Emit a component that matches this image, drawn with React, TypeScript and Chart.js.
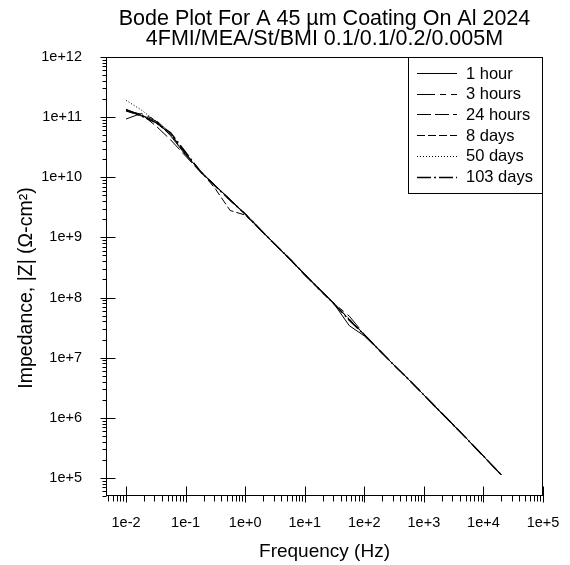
import React, { useEffect, useRef } from 'react';
import { Chart, registerables } from 'chart.js';

Chart.register(...registerables);

const titleLines = ['Bode Plot For A 45 \u00b5m Coating On Al 2024', '4FMI/MEA/St/BMI 0.1/0.1/0.2/0.005M'];
const xAxisTitle = 'Frequency (Hz)';
const yAxisTitle = 'Impedance, |Z| (\u03a9-cm\u00b2)';

const frequencies = [0.01, 0.018, 0.032, 0.056, 0.1, 0.18, 0.32, 0.56, 1, 1.8, 3.2, 5.6, 10, 18, 32, 56, 100, 180, 320, 560, 1000, 1800, 3200, 5600, 10000, 20000];

const seriesLabels = ['1 hour', '3 hours', '24 hours', '8 days', '50 days', '103 days'];

const impedance1Hour = [1.35e11, 1.08e11, 8.6e10, 4.9e10, 2.35e10, 1.25e10, 7.0e9, 4.3e9, 2.45e9, 1.33e9, 7.7e8, 4.3e8, 2.45e8, 1.34e8, 7.5e7, 3.4e7, 2.3e7, 1.32e7, 7.4e6, 4.3e6, 2.4e6, 1.32e6, 7.4e5, 4.2e5, 2.3e5, 1.12e5];
const impedance3Hours = [9.3e10, 1.15e11, 8.9e10, 5.3e10, 2.5e10, 1.2e10, 7.3e9, 4.1e9, 2.5e9, 1.37e9, 7.5e8, 4.5e8, 2.35e8, 1.37e8, 7.8e7, 4.9e7, 2.45e7, 1.3e7, 7.5e6, 4.3e6, 2.4e6, 1.33e6, 7.4e5, 4.2e5, 2.3e5, 1.12e5];
const impedance24Hours = [1.28e11, 1.12e11, 7.1e10, 4.2e10, 2.25e10, 1.2e10, 7.2e9, 4.25e9, 2.4e9, 1.36e9, 7.6e8, 4.4e8, 2.42e8, 1.3e8, 7.7e7, 4.3e7, 2.4e7, 1.33e7, 7.4e6, 4.3e6, 2.4e6, 1.32e6, 7.4e5, 4.2e5, 2.3e5, 1.12e5];
const impedance8Days = [1.26e11, 1.05e11, 8.0e10, 5.1e10, 2.45e10, 1.27e10, 6.3e9, 2.8e9, 2.35e9, 1.35e9, 7.6e8, 4.35e8, 2.4e8, 1.36e8, 7.6e7, 4.4e7, 2.4e7, 1.32e7, 7.4e6, 4.3e6, 2.4e6, 1.32e6, 7.4e5, 4.2e5, 2.3e5, 1.12e5];
const impedance50Days = [1.9e11, 1.32e11, 8.5e10, 5.2e10, 2.4e10, 1.24e10, 7.1e9, 4.2e9, 2.45e9, 1.35e9, 7.6e8, 4.4e8, 2.4e8, 1.35e8, 7.6e7, 4.3e7, 2.4e7, 1.32e7, 7.4e6, 4.3e6, 2.4e6, 1.32e6, 7.4e5, 4.2e5, 2.3e5, 1.12e5];
const impedance103Days = [1.32e11, 1.05e11, 8.1e10, 5.5e10, 2.6e10, 1.22e10, 7.0e9, 4.15e9, 2.45e9, 1.34e9, 7.6e8, 4.4e8, 2.4e8, 1.35e8, 7.6e7, 4.2e7, 2.4e7, 1.32e7, 7.4e6, 4.3e6, 2.4e6, 1.32e6, 7.4e5, 4.2e5, 2.3e5, 1.12e5];

const seriesValues = [impedance1Hour, impedance3Hours, impedance24Hours, impedance8Days, impedance50Days, impedance103Days];
const seriesDashes = [[], [18, 5, 6, 5], [14, 4], [8, 3], [1, 2], [14, 3, 2, 3]];
const seriesWidths = [1, 1, 1, 1, 1, 1.5];

const xTickValues = [1e-2, 1e-1, 1e0, 1e1, 1e2, 1e3, 1e4, 1e5];
const yTickValues = [1e5, 1e6, 1e7, 1e8, 1e9, 1e10, 1e11, 1e12];
const minorMultipliers = [2, 3, 4, 5, 6, 7, 8, 9];

const FONT = '"Liberation Sans", Arial, Helvetica, sans-serif';

function expLabel(v: number) {
  const e = Math.round(Math.log10(v));
  return '1e' + (e < 0 ? '-' : '+') + Math.abs(e);
}

function logTickValues(min: number, max: number) {
  const out: { v: number; major: boolean }[] = [];
  const d0 = Math.floor(Math.log10(min)) - 1;
  const d1 = Math.ceil(Math.log10(max)) + 1;
  for (let d = d0; d <= d1; d++) {
    const base = Math.pow(10, d);
    const major = Number(base.toPrecision(6));
    if (major >= min && major <= max * 1.000001) out.push({ v: major, major: true });
    for (const m of minorMultipliers) {
      const v = Number((m * base).toPrecision(6));
      if (v >= min && v <= max) out.push({ v, major: false });
    }
  }
  return out;
}

const decorPlugin = {
  id: 'decor',
  afterDraw(chart: any) {
    const { ctx, chartArea } = chart;
    const { left, right, top, bottom } = chartArea;
    const xs = chart.scales.x;
    const ys = chart.scales.y;
    ctx.save();
    ctx.strokeStyle = '#000';
    ctx.lineWidth = 1;
    ctx.setLineDash([]);
    const L = Math.round(left) + 0.5;
    const R = Math.round(right) - 0.5;
    const T = Math.round(top) + 0.5;
    const B = Math.round(bottom) - 0.5;
    // frame
    ctx.strokeRect(L, T, R - L, B - T);
    // x ticks
    ctx.beginPath();
    for (const t of logTickValues(xs.min, xs.max)) {
      const px = Math.round(xs.getPixelForValue(t.v)) + 0.5;
      if (t.major) { ctx.moveTo(px, B - 9); ctx.lineTo(px, B + 7); }
      else { ctx.moveTo(px, B); ctx.lineTo(px, B + 6); }
    }
    // y ticks
    for (const t of logTickValues(ys.min, ys.max)) {
      const py = Math.round(ys.getPixelForValue(t.v)) + 0.5;
      if (t.major) { ctx.moveTo(L - 6, py); ctx.lineTo(L + 9, py); }
      else { ctx.moveTo(L - 4, py); ctx.lineTo(L, py); }
    }
    ctx.stroke();
    // title
    ctx.fillStyle = '#000';
    ctx.font = '21.5px ' + FONT;
    ctx.textAlign = 'center';
    ctx.textBaseline = 'alphabetic';
    const cx = (left + right) / 2;
    ctx.fillText(titleLines[0], cx, 25);
    ctx.fillText(titleLines[1], cx, 45);
    // y axis title
    ctx.save();
    ctx.translate(27, 288);
    ctx.rotate(-Math.PI / 2);
    ctx.font = '19.5px ' + FONT;
    ctx.textAlign = 'center';
    ctx.textBaseline = 'middle';
    ctx.fillText(yAxisTitle, 0, 0);
    ctx.restore();
    // legend
    const lx0 = 408.5, lx1 = R, ly0 = T, ly1 = 193.5;
    ctx.fillStyle = '#fff';
    ctx.fillRect(lx0, ly0, lx1 - lx0, ly1 - ly0);
    ctx.strokeStyle = '#000';
    ctx.strokeRect(lx0, ly0, lx1 - lx0, ly1 - ly0);
    ctx.font = '16.5px ' + FONT;
    ctx.textAlign = 'left';
    ctx.textBaseline = 'middle';
    chart.data.datasets.forEach((ds: any, i: number) => {
      const yy = 73 + i * 20.7;
      ctx.beginPath();
      ctx.setLineDash(ds.borderDash || []);
      ctx.lineWidth = ds.borderWidth;
      ctx.moveTo(417, Math.round(yy) + 0.5);
      ctx.lineTo(457, Math.round(yy) + 0.5);
      ctx.stroke();
      ctx.setLineDash([]);
      ctx.fillStyle = '#000';
      ctx.fillText(ds.label, 466, yy + 1);
    });
    ctx.restore();
  },
};

export default function App() {
  const ref = useRef<HTMLCanvasElement | null>(null);
  useEffect(() => {
    if (!ref.current) return;
    const datasets = seriesLabels.map((label, i) => ({
      label,
      data: frequencies.map((f, j) => ({ x: f, y: seriesValues[i][j] })),
      borderColor: '#000',
      backgroundColor: '#000',
      borderWidth: seriesWidths[i],
      borderDash: seriesDashes[i],
      pointRadius: 0,
      fill: false,
      tension: 0,
    }));
    const chart = new Chart(ref.current, {
      type: 'line',
      data: { datasets },
      plugins: [decorPlugin],
      options: {
        animation: false,
        responsive: false,
        parsing: false as any,
        layout: { padding: { top: 57, right: 27, left: 0, bottom: 0 } },
        plugins: { legend: { display: false }, tooltip: { enabled: false }, title: { display: false } },
        scales: {
          x: {
            type: 'logarithmic',
            min: 0.00461,
            max: 1e5,
            grid: { display: false, drawTicks: false },
            border: { display: false },
            afterBuildTicks: (s: any) => { s.ticks = xTickValues.map((v) => ({ value: v })); },
            afterFit: (s: any) => { s.height = 69; s.paddingLeft = 0; s.paddingRight = 0; },
            ticks: {
              autoSkip: false,
              maxRotation: 0,
              padding: 18,
              color: '#000',
              font: { family: FONT, size: 14.5 },
              callback: (v: any) => expLabel(Number(v)),
            },
            title: { display: true, text: xAxisTitle, color: '#000', font: { family: FONT, size: 19 }, padding: { top: 0, bottom: 2 } },
          },
          y: {
            type: 'logarithmic',
            min: 5.0e4,
            max: 1e12,
            grid: { display: false, drawTicks: false },
            border: { display: false },
            afterBuildTicks: (s: any) => { s.ticks = yTickValues.map((v) => ({ value: v })); },
            afterFit: (s: any) => { s.width = 106; s.paddingTop = 0; s.paddingBottom = 0; },
            ticks: {
              autoSkip: false,
              padding: 24,
              color: '#000',
              font: { family: FONT, size: 14.5 },
              callback: (v: any) => expLabel(Number(v)),
            },
            title: { display: false },
          },
        },
      },
    });
    return () => chart.destroy();
  }, []);
  return (
    <div style={{ position: 'fixed', left: 0, top: 0, width: 570, height: 565, background: '#fff' }}>
      <canvas ref={ref} width={570} height={565} style={{ display: 'block', width: 570, height: 565 }} />
    </div>
  );
}
